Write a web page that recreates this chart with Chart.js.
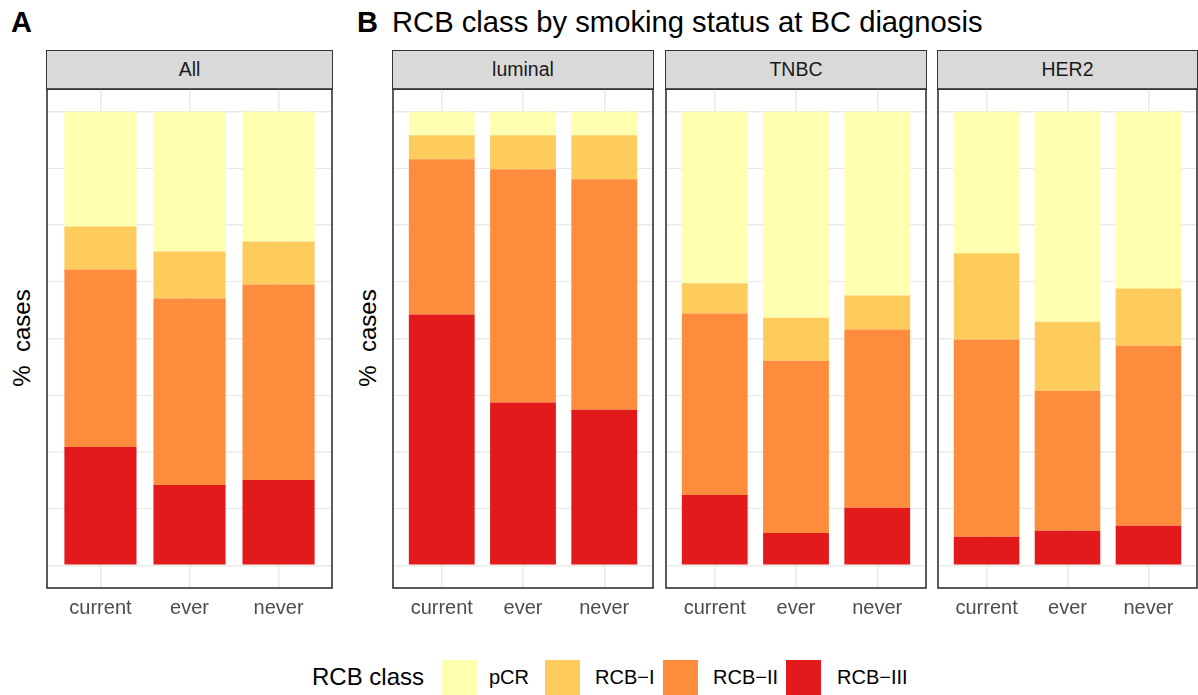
<!DOCTYPE html>
<html>
<head>
<meta charset="utf-8">
<script src="https://cdn.jsdelivr.net/npm/chart.js@4.4.1/dist/chart.umd.min.js"></script>
<style>
  html, body { margin:0; padding:0; background:#ffffff; }
  body { width:1198px; height:695px; position:relative; overflow:hidden;
         font-family:"Liberation Sans", Arial, Helvetica, sans-serif; color:#000; }
  .abs { position:absolute; white-space:pre; line-height:1; }
  .strip { position:absolute; box-sizing:border-box; background:#d9d9d9; border:1.5px solid #333333;
           text-align:center; font-size:19.5px; color:#1a1a1a; }
  .cv { position:absolute; }
  .ytitle { position:absolute; width:200px; height:30px; line-height:30px; text-align:center;
            font-size:24px; transform:rotate(-90deg); white-space:pre; }
  .key { position:absolute; width:35px; height:35px; }
</style>
</head>
<body>
<script>
// ---- data ----
const categories = ['current', 'ever', 'never'];
const panels = ['All', 'luminal', 'TNBC', 'HER2'];
const classNames = ['pCR', 'RCB\u2212I', 'RCB\u2212II', 'RCB\u2212III'];
const classColors = ['#FFFFB2', '#FECC5C', '#FD8D3C', '#E31A1C'];
// percentages, per panel (All, luminal, TNBC, HER2) x category (current, ever, never)
const rcb3 = [26.1, 17.7, 18.8,  55.3, 35.9, 34.3,  15.5, 7.1, 12.7,  6.3, 7.6, 8.7];
const rcb2 = [39.1, 41.1, 43.1,  34.2, 51.4, 50.8,  40.0, 38.0, 39.3,  43.5, 30.9, 39.7];
const rcb1 = [ 9.5, 10.4,  9.5,   5.3,  7.5,  9.7,   6.7,  9.5,  7.5,  19.0, 15.2, 12.6];
const pcr  = [25.3, 30.8, 28.6,   5.2,  5.2,  5.2,  37.8, 45.4, 40.5,  31.2, 46.3, 39.0];
const yGridTicks = [0, 12.5, 25, 37.5, 50, 62.5, 75, 87.5, 100];

// ---- layout (panel boxes) ----
const panelBoxes = [
  {L: 47,  R: 332},
  {L: 393, R: 653},
  {L: 666, R: 926},
  {L: 938, R: 1197}
];
const PT = 89, PB = 588, XAX = 50;

function addDiv(cls, txt, css) {
  const d = document.createElement('div');
  d.className = cls;
  if (txt !== null) d.textContent = txt;
  Object.assign(d.style, css);
  document.body.appendChild(d);
  return d;
}

// titles
addDiv('abs', 'A', {left:'11px', top:'8px', fontSize:'29px', fontWeight:'bold'});
addDiv('abs', 'B', {left:'357px', top:'8px', fontSize:'29px', fontWeight:'bold'});
addDiv('abs', 'RCB class by smoking status at BC diagnosis', {left:'392px', top:'8px', fontSize:'29.2px'});

// y titles
addDiv('ytitle', '%  cases', {left:(22-100)+'px', top:(338-15)+'px'});
addDiv('ytitle', '%  cases', {left:(368-100)+'px', top:(338-15)+'px'});

const borderPlugin = {
  id: 'panelBorder',
  afterDraw(chart) {
    const a = chart.chartArea, ctx = chart.ctx;
    ctx.save();
    ctx.strokeStyle = '#333333';
    ctx.lineWidth = 1.6;
    ctx.strokeRect(a.left, a.top, a.right - a.left, a.bottom - a.top);
    ctx.restore();
  }
};

panels.forEach((p, pi) => {
  const b = panelBoxes[pi];
  const W = b.R - b.L;
  // strip
  addDiv('strip', p, {left:(b.L - 0.8)+'px', top:'50px', width:(W + 1.6)+'px', height:'40px', lineHeight:'37px'});
  const cv = document.createElement('canvas');
  cv.className = 'cv';
  cv.style.left = (b.L - 2) + 'px';
  cv.style.top = (PT - 2) + 'px';
  cv.style.width = (W + 4) + 'px';
  cv.style.height = (PB - PT + 2 + XAX) + 'px';
  cv.width = W + 4; cv.height = PB - PT + 2 + XAX;
  document.body.appendChild(cv);

  const series = [rcb3, rcb2, rcb1, pcr];
  const colorIdx = [3, 2, 1, 0];
  const datasets = series.map((arr, si) => ({
    label: classNames[colorIdx[si]],
    data: categories.map((c, ci) => ({x: ci + 1, y: arr[pi * 3 + ci]})),
    backgroundColor: classColors[colorIdx[si]],
    borderWidth: 0,
    barPercentage: 0.81,
    categoryPercentage: 1.0
  }));

  new Chart(cv, {
    type: 'bar',
    data: { datasets },
    plugins: [borderPlugin],
    options: {
      responsive: false,
      animation: false,
      devicePixelRatio: 1,
      layout: { padding: {left: 2, right: 2, top: 2, bottom: 0} },
      plugins: { legend: {display: false}, tooltip: {enabled: false}, title: {display: false} },
      scales: {
        x: {
          type: 'linear', min: 0.4, max: 3.6, stacked: true, offset: false,
          afterBuildTicks: s => { s.ticks = categories.map((c, i) => ({value: i + 1})); },
          afterFit: s => { s.height = XAX; },
          grid: { color: '#e9e9e9', lineWidth: 1.5, drawTicks: false, offset: false },
          border: { display: false },
          ticks: {
            callback: v => categories[Math.round(v) - 1],
            color: '#4d4d4d',
            font: { size: 20, family: '"Liberation Sans", Arial, Helvetica, sans-serif' },
            padding: 8, maxRotation: 0, autoSkip: false
          }
        },
        y: {
          min: -5, max: 105, stacked: true,
          afterBuildTicks: s => { s.ticks = yGridTicks.map(v => ({value: v})); },
          afterFit: s => { s.width = 0; },
          grid: { color: '#e9e9e9', lineWidth: ctx => (ctx.tick && ctx.tick.value % 25 === 0) ? 1.6 : 1.1, drawTicks: false },
          border: { display: false },
          ticks: { display: false }
        }
      }
    }
  });
});

// legend
addDiv('abs', 'RCB class', {left:'312px', top:(677 - 12)+'px', fontSize:'24px', lineHeight:'24px'});
const keyX = [442, 545, 663, 786];
const labX = [489, 595, 713, 837];
classNames.forEach((n, i) => {
  addDiv('key', null, {left: keyX[i]+'px', top:(677 - 17.5)+'px', background: classColors[i]});
  addDiv('abs', n, {left: labX[i]+'px', top:(677 - 10)+'px', fontSize:'20px', lineHeight:'20px'});
});
</script>
</body>
</html>
